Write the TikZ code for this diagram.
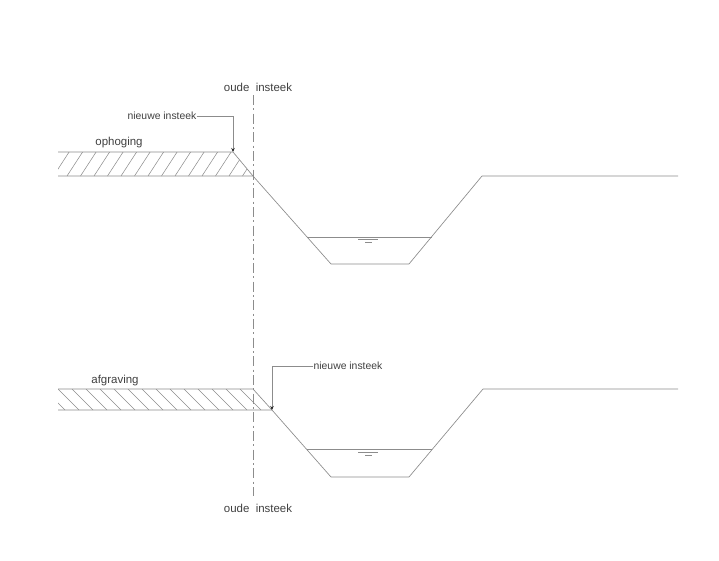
\documentclass[tikz,border=0pt]{standalone}
\usepackage{fontspec}
\setmainfont{Liberation Sans}
\usetikzlibrary{arrows.meta}
\begin{document}
\begin{tikzpicture}[x=0.75pt, y=-0.75pt,
    line/.style={black!45, line width=0.5pt},
    hatch/.style={black!45, line width=0.4pt},
    label/.style={font=\fontsize{8.6}{10}\selectfont, text=black!75, inner sep=0pt},
    small/.style={label, font=\fontsize{7.8}{9}\selectfont},
    axis/.style={line, dash pattern=on 7.5pt off 2.5pt on 1.5pt off 2.5pt},
    leader/.style={line, -{Stealth[length=3pt, width=2.6pt, color=black!85]}}]
  \useasboundingbox (0,0) rectangle (719,561);
  % as-lijn oude insteek
  \node [label] (oudetop) at (258,87) {oude\ \ insteek};
  \node [label] (oudebot) at (258,508) {oude\ \ insteek};
  \draw [axis] (253,95) -- (253,496);
  % bovenste profiel: ophoging
  \coordinate (ophl) at (58,152);
  \coordinate (ophr) at (233,152);
  \coordinate (oud1) at (253,176);
  \begin{scope}
    \clip (ophl) -- (ophr) -- (oud1) -- (58,176) -- cycle;
    \foreach \x in {40,53.5,...,260}
      \draw [hatch] (\x,176) -- (\x+15.6,152);
  \end{scope}
  \draw [line] (ophl) -- (ophr) -- (oud1);
  \draw [line] (58,176) -- (oud1) -- (331,264) -- (409,264) -- (482,176) -- (678,176);
  \draw [line] (307,237) -- (432,237);
  \draw [line] (358,239.5) -- (378,239.5) (365,242.3) -- (372,242.3);
  \node [label] (ophoging) at (119,143) {ophoging};
  \node [small] (nieuwtop) at (162,116) {nieuwe insteek};
  \draw [leader] (nieuwtop.east) -| (ophr);
  % onderste profiel: afgraving
  \coordinate (afgl) at (58,389);
  \coordinate (oud2) at (253,389);
  \coordinate (nieuw2) at (272,410);
  \begin{scope}
    \clip (afgl) -- (oud2) -- (nieuw2) -- (58,410) -- cycle;
    \foreach \x in {30,44,...,270}
      \draw [hatch] (\x,389) -- (\x+21,410);
  \end{scope}
  \draw [line] (afgl) -- (oud2) -- (nieuw2);
  \draw [line] (58,410) -- (nieuw2) -- (331,477) -- (409,477) -- (483,389) -- (678,389);
  \draw [line] (307,449) -- (432,449);
  \draw [line] (358,452.5) -- (378,452.5) (365,455.3) -- (372,455.3);
  \node [label] (afgraving) at (115,381) {afgraving};
  \node [small] (nieuwbot) at (348,366) {nieuwe insteek};
  \draw [leader] (nieuwbot.west) -| (nieuw2);
\end{tikzpicture}
\end{document}
